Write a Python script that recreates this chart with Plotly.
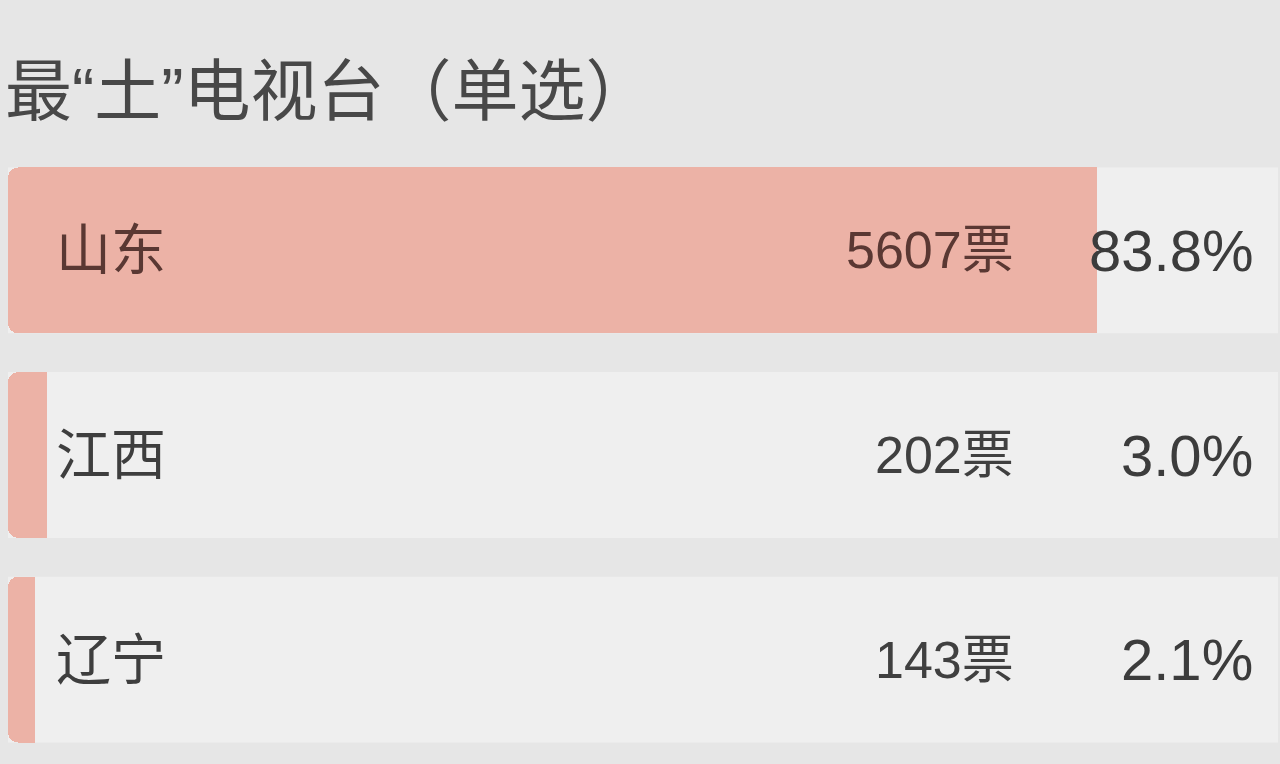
import plotly.graph_objects as go

provinces = ['山东', '江西', '辽宁']
votes = [5607, 202, 143]
percents = [83.8, 3.0, 2.1]
title_text = '最“土”电视台（单选）'

FONT = 'Liberation Sans, Noto Sans CJK SC, sans-serif'
BG = '#e6e6e6'
TRACK = '#efefef'
BAR = '#ecb2a6'
X_MAX = 97.7  # the grey track covers this much

fig = go.Figure()

# x axis runs right-to-left; a clear spacer sits under the pink bar so the
# rounded top of the stack ends up on the left side
fig.add_trace(go.Bar(
    y=provinces,
    x=[X_MAX - p for p in percents],
    orientation='h',
    marker=dict(color='rgba(0,0,0,0)', line=dict(width=0)),
    hoverinfo='skip',
    showlegend=False,
))
fig.add_trace(go.Bar(
    y=provinces,
    x=percents,
    orientation='h',
    marker=dict(color=BAR, cornerradius=10, line=dict(width=0)),
    hoverinfo='skip',
    showlegend=False,
))

shapes = []
annotations = []
for i, (name, v, p) in enumerate(zip(provinces, votes, percents)):
    shapes.append(dict(
        type='rect', xref='paper', yref='y', layer='below',
        x0=0, x1=1, y0=i - 0.405, y1=i + 0.405,
        fillcolor=TRACK, line=dict(width=0),
    ))
    on_bar = p > 50
    annotations.append(dict(
        text=name, xref='paper', yref='y', x=0.036, y=i,
        xanchor='left', yanchor='middle', showarrow=False,
        font=dict(family=FONT, size=55, color='#5a3833' if on_bar else '#3e3e3e'),
    ))
    annotations.append(dict(
        text='%d票' % v, xref='paper', yref='y', x=0.7935, y=i,
        xanchor='right', yanchor='middle', showarrow=False,
        font=dict(family=FONT, size=52, color='#5a3833' if on_bar else '#404040'),
    ))
    annotations.append(dict(
        text='%.1f%%' % p, xref='paper', yref='y', x=0.9815, y=i,
        xanchor='right', yanchor='middle', showarrow=False,
        font=dict(family=FONT, size=58, color='#3c3c3c'),
    ))

fig.update_layout(
    width=1280, height=764,
    margin=dict(l=8, r=2, t=148, b=2),
    paper_bgcolor=BG, plot_bgcolor=BG,
    barmode='stack',
    bargap=0.19,
    title=dict(text=title_text, x=5 / 1280, xref='container', xanchor='left',
               y=1 - 92 / 764, yref='container', yanchor='middle',
               font=dict(family=FONT, size=67, color='#484848')),
    xaxis=dict(range=[X_MAX, 0], visible=False, fixedrange=True),
    yaxis=dict(categoryorder='array', categoryarray=provinces,
               range=[2.5, -0.5], visible=False, fixedrange=True),
    shapes=shapes,
    annotations=annotations,
)

fig.write_html('out.html', config={'displayModeBar': False},
               post_script="document.body.style.margin='0';document.body.style.background='%s';" % BG)
